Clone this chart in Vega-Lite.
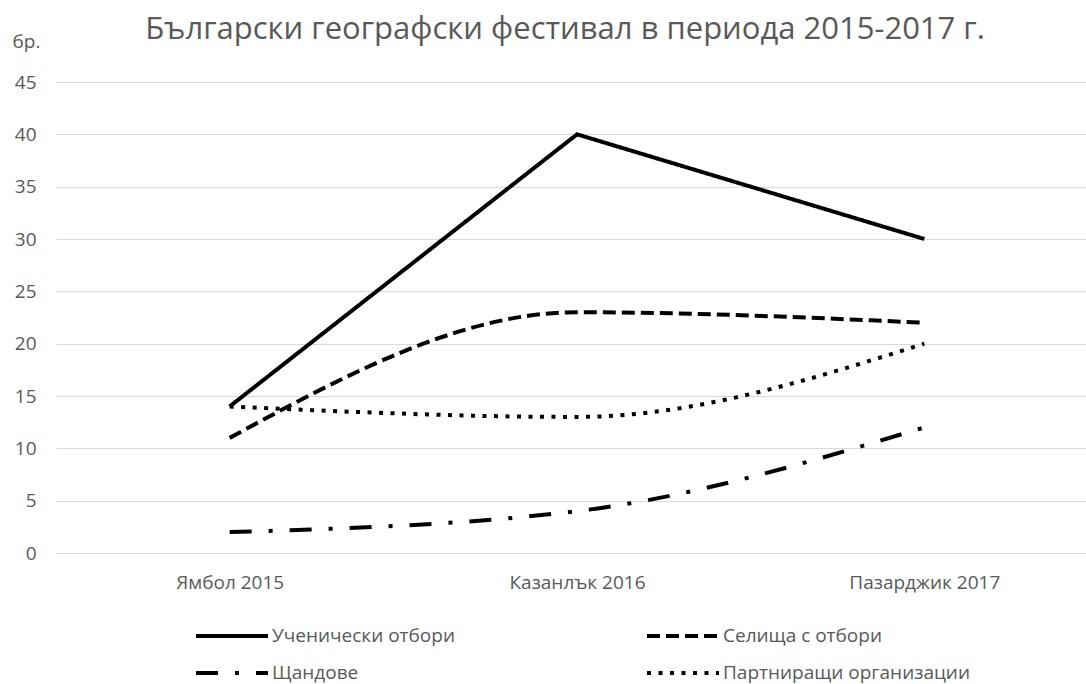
{
  "$schema": "https://vega.github.io/schema/vega-lite/v6.json",
  "autosize": "none",
  "padding": {"left": 56, "top": 82, "right": 0, "bottom": 131},
  "width": 1042,
  "height": 471,
  "background": "white",
  "title": {
    "text": "Български географски фестивал в периода 2015-2017 г.",
    "font": "Open Sans",
    "fontSize": 31,
    "fontWeight": "normal",
    "color": "#595959",
    "anchor": "middle",
    "dx": -12,
    "offset": -14
  },
  "data": {
    "values": [
      {"place": "Ямбол 2015", "series": "Ученически отбори", "value": 14},
      {"place": "Казанлък 2016", "series": "Ученически отбори", "value": 40},
      {"place": "Пазарджик 2017", "series": "Ученически отбори", "value": 30},
      {"place": "Ямбол 2015", "series": "Селища с отбори", "value": 11},
      {"place": "Казанлък 2016", "series": "Селища с отбори", "value": 23},
      {"place": "Пазарджик 2017", "series": "Селища с отбори", "value": 22},
      {"place": "Ямбол 2015", "series": "Щандове", "value": 2},
      {"place": "Казанлък 2016", "series": "Щандове", "value": 4},
      {"place": "Пазарджик 2017", "series": "Щандове", "value": 12},
      {"place": "Ямбол 2015", "series": "Партниращи организации", "value": 14},
      {"place": "Казанлък 2016", "series": "Партниращи организации", "value": 13},
      {"place": "Пазарджик 2017", "series": "Партниращи организации", "value": 20}
    ]
  },
  "encoding": {
    "x": {
      "field": "place",
      "type": "nominal",
      "sort": ["Ямбол 2015", "Казанлък 2016", "Пазарджик 2017"],
      "scale": {"type": "point", "padding": 0.5},
      "axis": {
        "title": null,
        "labelAngle": 0,
        "labelFont": "Open Sans",
        "labelFontSize": 19,
        "labelColor": "#595959",
        "labelPadding": 20,
        "ticks": false,
        "domain": false,
        "grid": false
      }
    },
    "y": {
      "field": "value",
      "type": "quantitative",
      "scale": {"domain": [0, 45], "nice": false},
      "axis": {
        "values": [0, 5, 10, 15, 20, 25, 30, 35, 40, 45],
        "title": "бр.",
        "titleAngle": 0,
        "titleAlign": "left",
        "titleBaseline": "alphabetic",
        "titleX": -44,
        "titleY": -35,
        "titleFont": "Open Sans",
        "titleFontSize": 19,
        "titleFontWeight": "normal",
        "titleColor": "#595959",
        "labelFont": "Open Sans",
        "labelFontSize": 19,
        "labelColor": "#595959",
        "labelPadding": 20,
        "ticks": false,
        "domain": false,
        "grid": true,
        "gridColor": "#d9d9d9",
        "gridWidth": 1
      }
    },
    "strokeDash": {
      "field": "series",
      "type": "nominal",
      "scale": {
        "domain": ["Ученически отбори", "Селища с отбори", "Щандове", "Партниращи организации"],
        "range": [[1, 0], [13, 6], [22, 17, 4, 17], [4, 7.5]]
      },
      "legend": {
        "title": null,
        "orient": "none",
        "direction": "horizontal",
        "legendX": 162,
        "legendY": 540,
        "columns": 2,
        "columnPadding": 184,
        "rowPadding": 13,
        "symbolType": "M-3,0H3",
        "symbolSize": 576,
        "symbolStrokeWidth": 4,
        "symbolStrokeColor": "black",
        "symbolFillColor": "transparent",
        "labelFont": "Open Sans",
        "labelFontSize": 19,
        "labelColor": "#595959",
        "labelOffset": 26,
        "labelLimit": 500
      }
    }
  },
  "layer": [
    {
      "transform": [{"filter": "datum.series === 'Ученически отбори'"}],
      "mark": {"type": "line", "color": "black", "strokeWidth": 4, "interpolate": "linear"}
    },
    {
      "transform": [{"filter": "datum.series !== 'Ученически отбори'"}],
      "mark": {"type": "line", "color": "black", "strokeWidth": 4, "interpolate": "monotone"}
    }
  ],
  "config": {"view": {"stroke": null}}
}
